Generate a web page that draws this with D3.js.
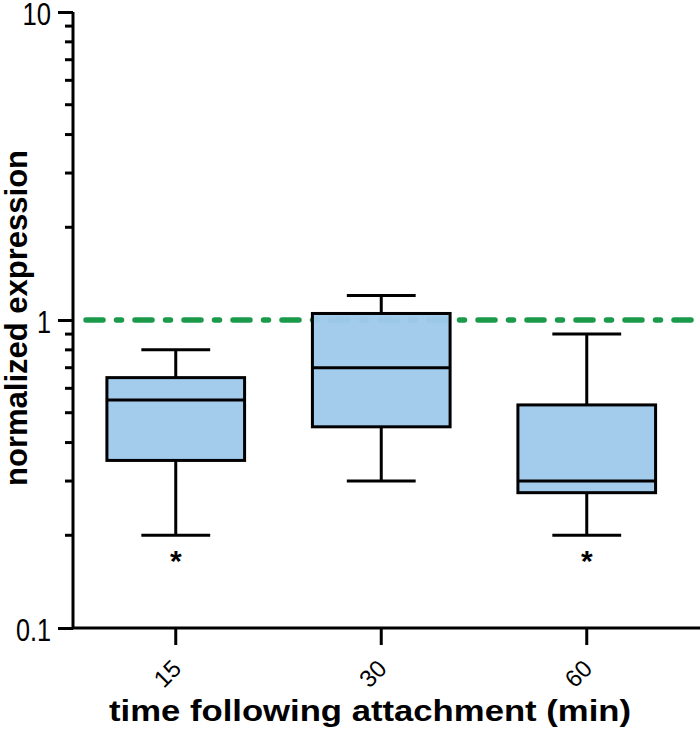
<!DOCTYPE html>
<html><head><meta charset="utf-8">
<script src="https://cdn.jsdelivr.net/npm/d3@7"></script>
<style>body{margin:0;background:#fff}svg{display:block}</style>
</head><body>
<svg id="chart" width="700" height="732"></svg>
<script>
const categories = ["15", "30", "60"];
const whiskerLow = [0.2, 0.3, 0.2];
const q1 = [0.35, 0.45, 0.275];
const median = [0.55, 0.70, 0.30];
const q3 = [0.65, 1.05, 0.53];
const whiskerHigh = [0.8, 1.2, 0.9];
const significant = [true, false, true];
const yTickValues = [0.1, 1, 10];
const yTickLabels = ["0.1", "1", "10"];
const referenceLevel = 1;
const xTitle = "time following attachment (min)";
const yTitle = "normalized expression";

(function () {
const svg = d3.select("#chart");
const mLeft = 73, mRight = 689.5, mTop = 12, mBottom = 628;
const sans = "Liberation Sans, Arial, Helvetica, sans-serif";

const y = d3.scaleLog().domain([0.1, 10]).range([mBottom, mTop]);
const x = d3.scaleBand().domain(categories).range([mLeft, mRight]).paddingInner(0.33).paddingOuter(0.165);

const boxes = categories.map((c, i) => ({c, lo: whiskerLow[i], q1: q1[i], med: median[i], q3: q3[i], hi: whiskerHigh[i], sig: significant[i]}));

svg.append("line")
  .attr("x1", mLeft + 13).attr("x2", 700)
  .attr("y1", y(referenceLevel)).attr("y2", y(referenceLevel))
  .attr("stroke", "#1a9a4a").attr("stroke-width", 5.5)
  .attr("stroke-linecap", "round")
  .attr("stroke-dasharray", "17,13.5,5,13.5");

const g = svg.append("g").selectAll("g").data(boxes).join("g");
const cx = d => x(d.c) + x.bandwidth() / 2;
const bw = x.bandwidth();

g.append("line").attr("x1", cx).attr("x2", cx).attr("y1", d => y(d.hi)).attr("y2", d => y(d.q3))
  .attr("stroke", "#000").attr("stroke-width", 3);
g.append("line").attr("x1", cx).attr("x2", cx).attr("y1", d => y(d.q1)).attr("y2", d => y(d.lo))
  .attr("stroke", "#000").attr("stroke-width", 3);
g.append("line").attr("x1", d => cx(d) - bw / 4).attr("x2", d => cx(d) + bw / 4)
  .attr("y1", d => y(d.hi)).attr("y2", d => y(d.hi)).attr("stroke", "#000").attr("stroke-width", 3);
g.append("line").attr("x1", d => cx(d) - bw / 4).attr("x2", d => cx(d) + bw / 4)
  .attr("y1", d => y(d.lo)).attr("y2", d => y(d.lo)).attr("stroke", "#000").attr("stroke-width", 3);
g.append("rect").attr("x", d => x(d.c)).attr("width", bw)
  .attr("y", d => y(d.q3)).attr("height", d => y(d.q1) - y(d.q3))
  .attr("fill", "#9fc9eb").attr("fill-opacity", 0.97).attr("stroke", "#000").attr("stroke-width", 3);
g.append("line").attr("x1", d => x(d.c)).attr("x2", d => x(d.c) + bw)
  .attr("y1", d => y(d.med)).attr("y2", d => y(d.med)).attr("stroke", "#000").attr("stroke-width", 3);
g.filter(d => d.sig).append("text")
  .attr("x", cx).attr("y", d => y(d.lo) + 36)
  .attr("text-anchor", "middle")
  .attr("font-family", sans).attr("font-weight", "bold").attr("font-size", 30)
  .text("*");

const minorTicks = [];
[0.1, 1].forEach(b => { for (let k = 2; k <= 9; k++) minorTicks.push(b * k); });
const yAxis = d3.axisLeft(y).tickValues(yTickValues).tickFormat((d, i) => yTickLabels[i]).tickSize(15).tickPadding(7);
const ya = svg.append("g").attr("transform", `translate(${mLeft},0)`).call(yAxis);
ya.select(".domain").attr("stroke-width", 3).attr("d", `M0,${mTop}V${mBottom}`);
ya.selectAll(".tick line").attr("stroke-width", 3);
const labelWidths = {"0.1": 35, "1": 14, "10": 28.5};
ya.selectAll(".tick text").attr("font-family", sans)
  .attr("font-size", 32).attr("fill", "#000").attr("dy", 12)
  .attr("textLength", (d, i) => labelWidths[yTickLabels[i]])
  .attr("lengthAdjust", "spacingAndGlyphs");
svg.append("g").selectAll("line").data(minorTicks).join("line")
  .attr("x1", mLeft - 8).attr("x2", mLeft).attr("y1", d => y(d)).attr("y2", d => y(d))
  .attr("stroke", "#000").attr("stroke-width", 3);

const xAxis = d3.axisBottom(x).tickSize(17).tickPadding(4);
const xa = svg.append("g").attr("transform", `translate(0,${mBottom})`).call(xAxis);
xa.select(".domain").attr("stroke-width", 3).attr("d", `M${mLeft},0H700`);
xa.selectAll(".tick line").attr("stroke-width", 3);
xa.selectAll(".tick text")
  .attr("font-family", sans).attr("font-size", 24).attr("fill", "#000")
  .attr("text-anchor", "end").attr("x", 0).attr("y", 0).attr("dy", 0)
  .attr("transform", "translate(7,42) rotate(-45)");

svg.append("text").attr("x", 370).attr("y", 721).attr("text-anchor", "middle")
  .attr("font-family", sans).attr("font-weight", "bold").attr("font-size", 30)
  .attr("textLength", 522).attr("lengthAdjust", "spacingAndGlyphs")
  .text(xTitle);
svg.append("text").attr("transform", "translate(27,318) rotate(-90)").attr("text-anchor", "middle")
  .attr("font-family", sans).attr("font-weight", "bold").attr("font-size", 31)
  .attr("textLength", 336).attr("lengthAdjust", "spacingAndGlyphs")
  .text(yTitle);
})();
</script>
</body></html>
